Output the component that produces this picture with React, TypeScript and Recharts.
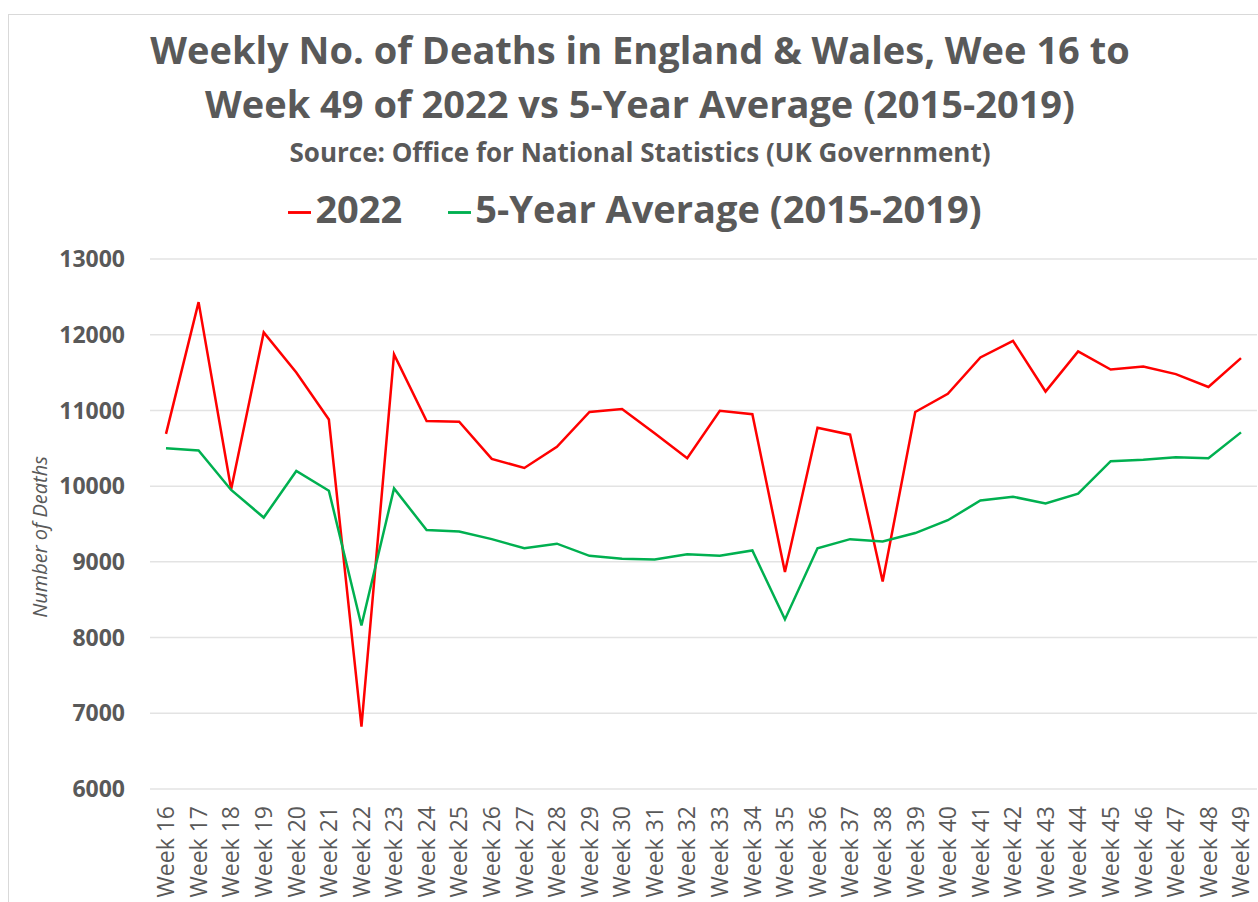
import React from 'react';
import {
  LineChart,
  Line,
  XAxis,
  YAxis,
  CartesianGrid,
  Legend,
  Label,
} from 'recharts';

const weeks = [
  'Week 16', 'Week 17', 'Week 18', 'Week 19', 'Week 20', 'Week 21', 'Week 22',
  'Week 23', 'Week 24', 'Week 25', 'Week 26', 'Week 27', 'Week 28', 'Week 29',
  'Week 30', 'Week 31', 'Week 32', 'Week 33', 'Week 34', 'Week 35', 'Week 36',
  'Week 37', 'Week 38', 'Week 39', 'Week 40', 'Week 41', 'Week 42', 'Week 43',
  'Week 44', 'Week 45', 'Week 46', 'Week 47', 'Week 48', 'Week 49',
];

const deaths2022 = [
  10690, 12430, 9960, 12030, 11500, 10880, 6825, 11740, 10860, 10850, 10360,
  10240, 10520, 10980, 11020, 10700, 10370, 10995, 10950, 8865, 10770, 10680,
  8740, 10980, 11220, 11700, 11920, 11250, 11780, 11540, 11580, 11480, 11310,
  11690,
];

const fiveYearAverage = [
  10500, 10470, 9950, 9585, 10200, 9940, 8160, 9970, 9420, 9400, 9300, 9180,
  9240, 9080, 9040, 9030, 9100, 9080, 9150, 8240, 9180, 9300, 9270, 9380, 9550,
  9810, 9860, 9770, 9900, 10330, 10350, 10380, 10370, 10710,
];

const yTicks = [6000, 7000, 8000, 9000, 10000, 11000, 12000, 13000];

const data = weeks.map((week, i) => ({
  week,
  y2022: deaths2022[i],
  avg: fiveYearAverage[i],
}));

const GREY = '#595959';
const FONT = "'Open Sans', sans-serif";

const WeekTick = ({ x, y, payload }: any) => (
  <text
    x={x}
    y={y}
    transform={`rotate(-90 ${x} ${y})`}
    textAnchor="end"
    dy="0.36em"
    fill={GREY}
    fontSize={23}
    fontFamily={FONT}
  >
    {payload.value}
  </text>
);

const App: React.FC = () => {
  return (
    <div
      style={{
        position: 'absolute',
        left: 0,
        top: 0,
        width: 1258,
        height: 902,
        overflow: 'hidden',
        background: '#fff',
        fontFamily: FONT,
      }}
    >
      {/* chart frame */}
      <div
        style={{
          position: 'absolute',
          left: 8,
          top: 14,
          width: 1400,
          height: 1000,
          border: '1px solid #d9d9d9',
        }}
      />

      <div
        style={{
          position: 'absolute',
          left: 0,
          top: 22,
          width: 1280,
          textAlign: 'center',
          color: GREY,
          fontWeight: 700,
          fontSize: 38,
          lineHeight: '54px',
        }}
      >
        Weekly No. of Deaths in England &amp; Wales, Wee 16 to
        <br />
        Week 49 of 2022 vs 5-Year Average (2015-2019)
      </div>
      <div
        style={{
          position: 'absolute',
          left: 0,
          top: 134,
          width: 1280,
          textAlign: 'center',
          color: GREY,
          fontWeight: 700,
          fontSize: 26,
          lineHeight: '36px',
        }}
      >
        Source: Office for National Statistics (UK Government)
      </div>

      <LineChart
        width={1258}
        height={902}
        data={data}
        margin={{ top: 259, right: 1, bottom: 0, left: 0 }}
        style={{ position: 'absolute', left: 0, top: 0 }}
      >
        <CartesianGrid vertical={false} stroke="#e3e3e3" strokeWidth={1.5} />

        <XAxis
          dataKey="week"
          interval={0}
          height={113}
          axisLine={false}
          tickLine={false}
          tickMargin={11}
          padding={{ left: 16, right: 16 }}
          tick={<WeekTick />}
        />

        <YAxis
          domain={[6000, 13000]}
          ticks={yTicks}
          width={150}
          axisLine={false}
          tickLine={false}
          tickMargin={19}
          tick={{ fill: GREY, fontSize: 23, fontWeight: 700, fontFamily: FONT }}
        >
          <Label
            content={({ viewBox }: any) => (
              <text
                x={viewBox.x + 40}
                y={viewBox.y + viewBox.height / 2 + 13}
                transform={`rotate(-90 ${viewBox.x + 40} ${viewBox.y + viewBox.height / 2 + 13})`}
                textAnchor="middle"
                dy="0.36em"
                fill={GREY}
                fontSize={20}
                fontStyle="italic"
                fontFamily={FONT}
              >
                Number of Deaths
              </text>
            )}
          />
        </YAxis>

        <Legend
          layout="horizontal"
          align="center"
          verticalAlign="middle"
          iconType="plainline"
          iconSize={23}
          wrapperStyle={{
            top: 182,
            left: 0,
            width: 1280,
            fontSize: 38,
            fontWeight: 700,
            fontFamily: FONT,
            lineHeight: '52px',
          }}
          formatter={(value: string, _entry: any, index: number) => (
            <span style={{ color: GREY, marginRight: index === 0 ? 36 : 0 }}>
              {value}
            </span>
          )}
        />

        <Line
          type="linear"
          dataKey="y2022"
          name="2022"
          stroke="#ff0000"
          strokeWidth={2.5}
          dot={false}
          isAnimationActive={false}
        />
        <Line
          type="linear"
          dataKey="avg"
          name="5-Year Average (2015-2019)"
          stroke="#00b050"
          strokeWidth={2.5}
          dot={false}
          isAnimationActive={false}
        />
      </LineChart>
    </div>
  );
};

export default App;
